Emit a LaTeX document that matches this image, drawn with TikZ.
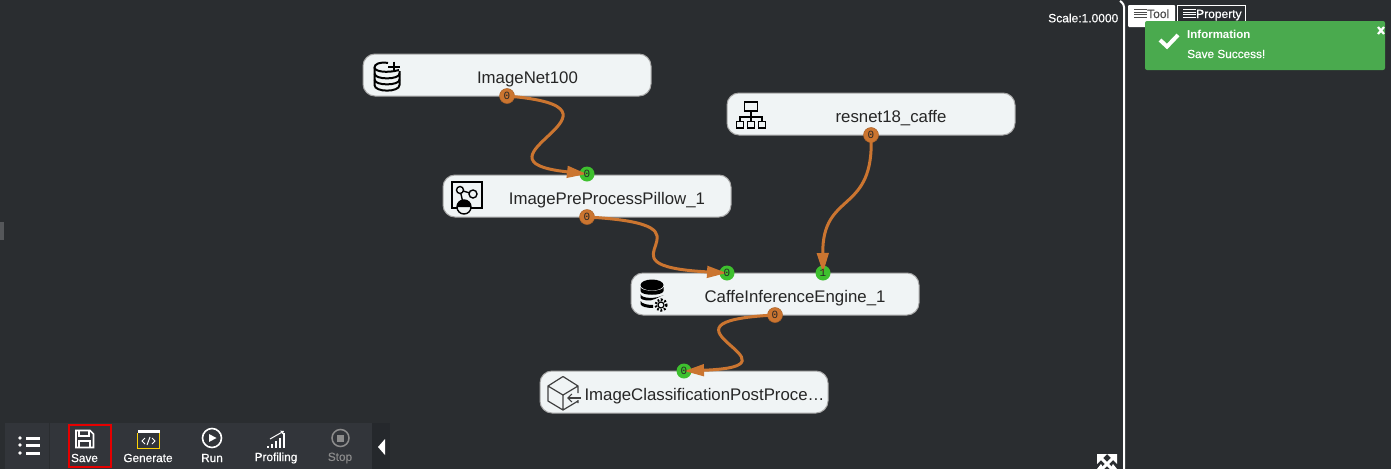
\documentclass[tikz,border=0pt]{standalone}
\usepackage{fontspec}
\setmainfont{Liberation Sans}
\newfontfamily\portfont{Liberation Mono}
\newfontfamily\barfont[FakeBold=0.35]{Liberation Sans}
\usetikzlibrary{arrows.meta, positioning, calc}
\definecolor{flowbg}{RGB}{42, 45, 48}
\definecolor{flowbar}{RGB}{50, 53, 58}
\definecolor{flowbox}{RGB}{240, 244, 245}
\definecolor{floworange}{RGB}{203, 117, 48}
\definecolor{flowgreen}{RGB}{62, 192, 46}
\definecolor{flowinfo}{RGB}{74, 170, 78}
\tikzset{
  flowbox/.style={draw=black!35, line width=1pt, fill=flowbox, rounded corners=12pt, minimum width=288pt, minimum height=42pt, inner sep=0pt},
  flowtext/.style={text=black!85, font=\fontsize{16.8}{18}\selectfont, inner sep=0pt},
  outport/.style={circle, fill=floworange, draw=floworange!85!black, line width=.5pt, minimum size=15pt, inner sep=0pt},
  inport/.style={circle, fill=flowgreen, minimum size=15pt, inner sep=0pt},
  portlabel/.style={text=black!85, font=\portfont\fontsize{11}{11}\selectfont, inner sep=0pt},
  flowlink/.style={draw=floworange, line width=3pt, -{Triangle[length=20pt,width=11.5pt]}},
  barlabel/.style={text=white, font=\barfont\fontsize{11.8}{13}\selectfont, inner sep=0pt},
  uitext/.style={text=white, font=\barfont\fontsize{12}{14}\selectfont, inner sep=0pt},
  icon/.style={draw=black, line width=2pt},
  baricon/.style={draw=white, line width=1.6pt}
}
\begin{document}
\begin{tikzpicture}[x=1pt, y=-1pt]
\useasboundingbox (0,0) rectangle (1391,469);
\fill[flowbg] (0,0) rectangle (1391,469);
\fill[white!20!flowbg] (0,222) rectangle (4,240);

% Boxes
\node[flowbox] (imagenet) at (507,75) {};
\node[flowbox] (preproc) at (587,196) {};
\node[flowbox] (resnet) at (871,114) {};
\node[flowbox] (caffe) at (775,294) {};
\node[flowbox] (postproc) at (684,392) {};

\node[flowtext] (imagenetText) at (527.5,79) {ImageNet100};
\node[flowtext] (preprocText) at (607,200) {ImagePreProcessPillow\_1};
\node[flowtext] (resnetText) at (891,118) {resnet18\_caffe};
\node[flowtext] (caffeText) at (795,298) {CaffeInferenceEngine\_1};
\node[flowtext] (postprocText) at (704.5,396) {ImageClassificationPostProce\ldots};

% Ports
\node[outport] (imagenetOut) at (507,96) {};
\node[inport] (preprocIn) at (587,174) {};
\node[outport] (preprocOut) at (587,217) {};
\node[outport] (resnetOut) at (871,135) {};
\node[inport] (caffeInA) at (727,273) {};
\node[inport] (caffeInB) at (823,273) {};
\node[outport] (caffeOut) at (775,315) {};
\node[inport] (postprocIn) at (684,371) {};

% Connectors
\draw[flowlink] (imagenetOut.center) .. controls (652,108) and (457,160) .. (preprocIn.center);
\draw[flowlink] (preprocOut.center) .. controls (735,225) and (582,265) .. (caffeInA.center);
\draw[flowlink] (resnetOut.center) .. controls (875,215) and (822,190) .. (caffeInB.center);
\draw[flowlink] (caffeOut.center) .. controls (634,322) and (816,366) .. (postprocIn.center);

\node[portlabel] (l1) at (imagenetOut) {0};
\node[portlabel] (l2) at (preprocIn) {0};
\node[portlabel] (l3) at (preprocOut) {0};
\node[portlabel] (l4) at (resnetOut) {0};
\node[portlabel] (l5) at (caffeInA) {0};
\node[portlabel] (l6) at (caffeInB) {1};
\node[portlabel] (l7) at (caffeOut) {0};
\node[portlabel] (l8) at (postprocIn) {0};

% Database icon with plus
\draw[icon] (388,63) .. controls (380,61.5) and (374.5,64) .. (374.5,67.5) .. controls (374.5,71.5) and (387,73.5) .. (399,70);
\draw[icon] (374.5,67.5) -- (374.5,85) .. controls (374.5,92.5) and (399.5,92.5) .. (399.5,85) -- (399.5,71);
\draw[icon] (374.5,73.5) .. controls (374.5,80) and (399.5,80) .. (399.5,73.5);
\draw[icon] (374.5,79.5) .. controls (374.5,86) and (399.5,86) .. (399.5,79.5);
\draw[icon] (393.5,61.5) -- (393.5,71.5) (388,66.5) -- (400,66.5);

% Preprocess icon
\draw[icon] (452,182) rectangle (482,208);
\draw[icon, line width=1.4pt] (460,190) -- (473,194) (460,190) -- (464,207);
\draw[icon, line width=1.4pt, fill=flowbox] (460,190) circle (3.5);
\draw[icon, line width=1.4pt, fill=flowbox] (473,194) circle (4);
\draw[icon, line width=1.4pt, fill=flowbox] (464,207) circle (7);
\fill[black] (457,207) arc (180:0:7 and -7) -- cycle;

% Network icon
\draw[icon, line width=1.7pt] (744.5,102) rectangle (757.5,111);
\draw[icon, line width=1.7pt] (751,111) -- (751,121) (740,121) -- (740,117) -- (762,117) -- (762,121);
\draw[icon, line width=1.7pt] (736.5,121.5) rectangle (743.5,128);
\draw[icon, line width=1.7pt] (747.5,121.5) rectangle (754.5,128);
\draw[icon, line width=1.7pt] (758.5,121.5) rectangle (765.5,128);

% Engine icon
\fill[black] (652,285) ellipse (11.5 and 5.5);
\fill[black] (640.5,287) .. controls (641,292) and (663,292) .. (663.5,287) -- (663.5,291) .. controls (663,296) and (641,296) .. (640.5,291) -- cycle;
\fill[black] (640.5,294) .. controls (641,299) and (657,299) .. (663.5,295) -- (655,299) .. controls (650,302) and (641,300) .. (640.5,298) -- cycle;
\fill[black] (640.5,301) .. controls (642,304) and (648,305) .. (653,305) -- (653,308) .. controls (648,308) and (641,307) .. (640.5,304) -- cycle;
\draw[icon, line width=2.4pt, dash pattern=on 1.8pt off 1.8pt] (661,305) circle (5.5);
\draw[icon, line width=1.2pt] (661,305) circle (3);

% Cube icon
\draw[draw=black!75, line width=1.2pt] (563,376.5) -- (578,386) -- (578,393) (578,403) -- (578,400) (563,376.5) -- (548,386) -- (548,401) -- (563,410) -- (578,401) (548,386) -- (563,395) -- (578,386) (563,395) -- (563,410);
\draw[draw=black!75, line width=1.2pt, -{Straight Barb[length=4pt,width=8pt]}] (581,398) -- (567,398);

% Tool bar
\fill[flowbar] (5,423) rectangle (372,469);
\fill[flowbg] (49,423) rectangle (50,469);
\fill[black!25!flowbar] (372,423) rectangle (390,469);
\foreach \y in {438,445,453} {
  \fill[white] (20,\y) circle (1.8);
  \fill[white] (26,\y-1.5) rectangle (40,\y+1.5);
}
\draw[red!90!black, line width=2pt] (69,424.5) rectangle (111,466.5);
% Save
\draw[baricon] (76,430.5) -- (90,430.5) -- (93.5,434) -- (93.5,447.5) -- (76,447.5) -- cycle;
\draw[baricon] (79,431) -- (79,436) -- (89,436) -- (89,431) (79,447) -- (79,441) -- (90,441) -- (90,447);
% Generate
\fill[white] (137.5,429.5) rectangle (159.5,433);
\draw[draw=yellow!70!orange, line width=1pt] (137.5,433) -- (137.5,448.5) -- (159.5,448.5) -- (159.5,433);
\draw[draw=white, line width=1pt] (145,438) -- (142,441) -- (145,444) (152,438) -- (155,441) -- (152,444) (150,437) -- (147,445);
% Run
\draw[baricon] (212,438) circle (9.5);
\fill[white] (209,434) -- (216.5,438) -- (209,442) -- cycle;
% Profiling
\foreach \x/\h in {268/2,272/4,276/7,280/10,284/15} {
  \fill[white] (\x-1,447.5-\h) rectangle (\x+1,447.5);
}
\draw[draw=white, line width=1pt, -{Triangle[length=3pt,width=4pt]}] (270,439) -- (284,431);
% Stop
\draw[draw=black!45!white, line width=1.5pt] (340.5,438) circle (8.5);
\fill[black!45!white] (337,434.5) rectangle (344,441.5);
% Collapse arrow
\fill[white] (385,439) -- (385,455) -- (378,447) -- cycle;

\node[barlabel] (saveText) at (84.5,458) {Save};
\node[barlabel] (generateText) at (148,458) {Generate};
\node[barlabel] (runText) at (212,458) {Run};
\node[barlabel] (profilingText) at (276,458) {Profiling};
\node[barlabel, text=black!45!white] (stopText) at (340,458) {Stop};

% Right panel
\draw[draw=white, line width=2pt, rounded corners=3pt] (1120,1) -- (1124,4) -- (1124,469);
\node[uitext, anchor=east] (scaleText) at (1118.5,18) {Scale:1.0000};

\fill[white, rounded corners=1pt] (1128,5) rectangle (1175,27);
\draw[draw=white, line width=.8pt] (1177.5,25) -- (1177.5,5.5) -- (1245.5,5.5) -- (1245.5,25);
\foreach \x/\c in {1134/black!70, 1183/white} {
  \foreach \y in {9,11.5,14,16.5} {
    \fill[\c] (\x,\y) rectangle (\x+13,\y+1.4);
  }
}
\node[uitext, text=black!70, anchor=base west] (toolText) at (1147,18) {Tool};
\node[uitext, text=white, anchor=base west] (propertyText) at (1196,18) {Property};

\fill[flowinfo, rounded corners=2pt] (1145,21) rectangle (1385,70);
\draw[draw=white, line width=4pt] (1160,40) -- (1167,46.5) -- (1178,35);
\node[uitext, font=\bfseries\fontsize{11.5}{14}\selectfont, anchor=west] (infoText) at (1187,34) {Information};
\node[uitext, anchor=west, font=\barfont\fontsize{11.8}{14}\selectfont] (successText) at (1187,54) {Save Success!};
\draw[draw=white, line width=2.2pt] (1378,27) -- (1384,34) (1384,27) -- (1378,34);

% Expand icon
\begin{scope}
\clip (1090,450) rectangle (1125,469);
\draw[draw=white, line width=3pt] (1101,458) -- (1113,470) (1113,458) -- (1101,470);
\fill[white] (1097,454) -- (1107,454) -- (1097,464) -- cycle;
\fill[white] (1117,454) -- (1107,454) -- (1117,464) -- cycle;
\fill[white] (1097,469) -- (1101,464) -- (1104,469) -- cycle;
\fill[white] (1117,469) -- (1113,464) -- (1110,469) -- cycle;
\end{scope}
\end{tikzpicture}
\end{document}
